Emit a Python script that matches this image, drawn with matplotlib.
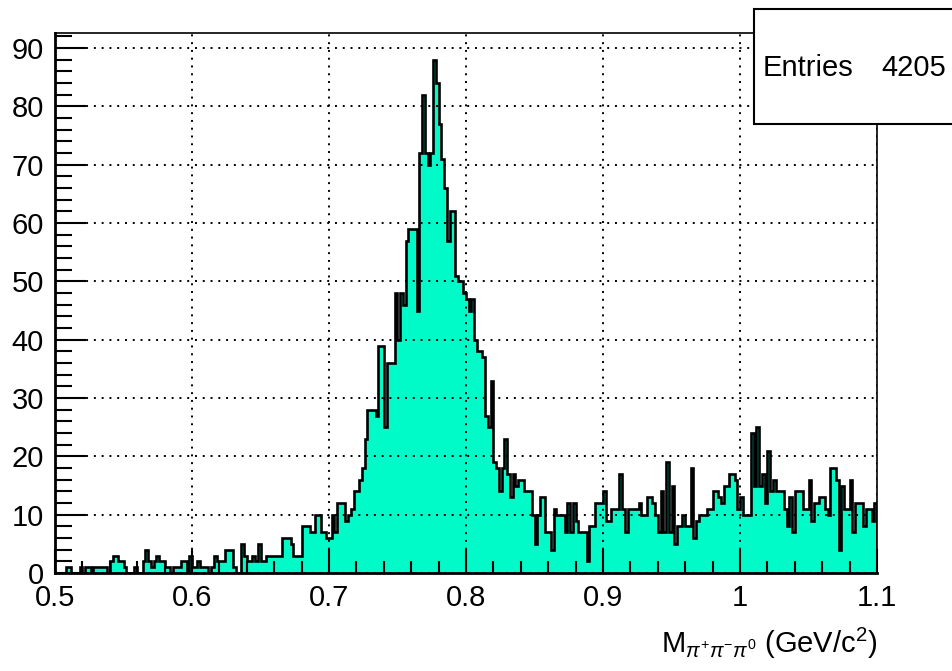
import numpy as np
import matplotlib
matplotlib.use("Agg")
import matplotlib.pyplot as plt
from matplotlib.patches import Rectangle
from matplotlib.ticker import MultipleLocator

# --- histogram: 300 bins, 0.5 .. 1.1 GeV
X_MIN, X_MAX, N_BINS = 0.5, 1.1, 300
ENTRIES = 4205

counts = [
    # 0.50 - 0.60
    0, 0, 0, 0, 1, 1, 0, 0, 0, 1, 0, 1, 1, 0, 1, 1, 1, 1, 1, 0,
    2, 3, 3, 2, 2, 1, 0, 0, 0, 1, 0, 0, 2, 4, 2, 1, 2, 3, 2, 2,
    1, 1, 0, 1, 1, 1, 2, 2, 0, 3,
    # 0.60 - 0.70
    1, 1, 2, 1, 1, 1, 0, 1, 3, 2, 2, 2, 4, 4, 4, 1, 0, 0, 5, 3,
    2, 2, 3, 2, 5, 2, 2, 3, 3, 3, 3, 3, 3, 6, 6, 6, 5, 3, 3, 3,
    8, 8, 8, 7, 7, 10, 10, 7, 7, 6,
    # 0.70 - 0.80
    6, 10, 7, 12, 12, 12, 9, 10, 11, 14, 14, 16, 18, 23, 28, 28, 28, 27, 39, 39,
    25, 36, 36, 36, 48, 40, 48, 46, 57, 59, 59, 59, 45, 72, 82, 72, 70, 72, 88, 84,
    77, 71, 66, 57, 62, 62, 51, 50, 50, 48,
    # 0.80 - 0.90
    47, 45, 47, 40, 38, 38, 37, 27, 25, 33, 19, 18, 14, 18, 23, 17, 13, 17, 15, 16,
    16, 14, 14, 14, 10, 5, 10, 13, 13, 7, 7, 4, 11, 10, 10, 10, 7, 12, 7, 12,
    9, 7, 7, 7, 2, 8, 8, 12, 12, 12,
    # 0.90 - 1.00
    14, 9, 9, 11, 11, 11, 17, 11, 7, 11, 11, 11, 11, 12, 10, 10, 13, 13, 12, 10,
    7, 14, 7, 19, 7, 15, 5, 8, 8, 10, 8, 8, 18, 6, 9, 10, 10, 10, 11, 11,
    14, 14, 13, 12, 15, 15, 17, 17, 16, 11,
    # 1.00 - 1.10
    13, 10, 10, 10, 24, 15, 25, 15, 17, 12, 21, 14, 16, 14, 14, 14, 11, 8, 13, 7,
    14, 14, 14, 11, 11, 16, 9, 12, 12, 13, 13, 11, 10, 18, 18, 16, 4, 15, 11, 11,
    16, 7, 12, 12, 12, 8, 11, 11, 9, 12,
]

FILL = "#00fac8"
FONT = "Liberation Sans"

plt.rcParams["font.family"] = [FONT, "DejaVu Sans"]
plt.rcParams["mathtext.fontset"] = "custom"
plt.rcParams["mathtext.rm"] = FONT
plt.rcParams["mathtext.it"] = FONT + ":italic"

edges = np.linspace(X_MIN, X_MAX, N_BINS + 1)

fig = plt.figure(figsize=(9.53, 6.71), dpi=100)
ax = fig.add_axes([55 / 953, 1 - 573 / 671, (877 - 55) / 953, (573 - 33) / 671])

ax.stairs(counts, edges, fill=True, color=FILL, lw=0)
ax.stairs(counts, edges, color="black", lw=1.9)

ax.set_xlim(X_MIN, X_MAX)
ax.set_ylim(0, 92.6)

ax.xaxis.set_major_locator(MultipleLocator(0.1))
ax.xaxis.set_minor_locator(MultipleLocator(0.02))
ax.yaxis.set_major_locator(MultipleLocator(10))
ax.yaxis.set_minor_locator(MultipleLocator(2))
ax.set_xticks(np.arange(0.5, 1.11, 0.1))
ax.set_xticklabels(["0.5", "0.6", "0.7", "0.8", "0.9", "1", "1.1"])

ax.tick_params(which="major", direction="in", length=17, width=1.5,
               labelsize=21, top=False, right=False)
ax.tick_params(which="minor", direction="in", length=9, width=1.5,
               top=False, right=False)
ax.tick_params(axis="y", which="major", length=22, pad=8)
ax.tick_params(axis="y", which="minor", length=12)
ax.tick_params(axis="x", pad=8)

ax.grid(True, which="major", color="black", linestyle=(0, (1, 3)), lw=1.4)
ax.set_axisbelow(False)

for side in ["left", "bottom"]:
    ax.spines[side].set_linewidth(2)
for side in ["top", "right"]:
    ax.spines[side].set_linewidth(1.2)

ax.set_xlabel(r"M$_{\pi^{+}\pi^{-}\pi^{0}}$ (GeV/c$^{2}$)", fontsize=21,
              loc="right", labelpad=10)

# stats box (sticks out of the canvas on the right, like ROOT)
box = Rectangle((754 / 953, 1 - 124 / 671), 0.3, (124 - 9) / 671,
                transform=fig.transFigure, facecolor="white",
                edgecolor="black", lw=1.5, zorder=5, clip_on=False)
fig.patches.append(box)
fig.text(763 / 953, 1 - 68 / 671, "Entries", fontsize=21, va="center",
         ha="left", zorder=6)
fig.text(946 / 953, 1 - 68 / 671, str(ENTRIES), fontsize=21, va="center",
         ha="right", zorder=6)

fig.savefig("out.png", dpi=100)
